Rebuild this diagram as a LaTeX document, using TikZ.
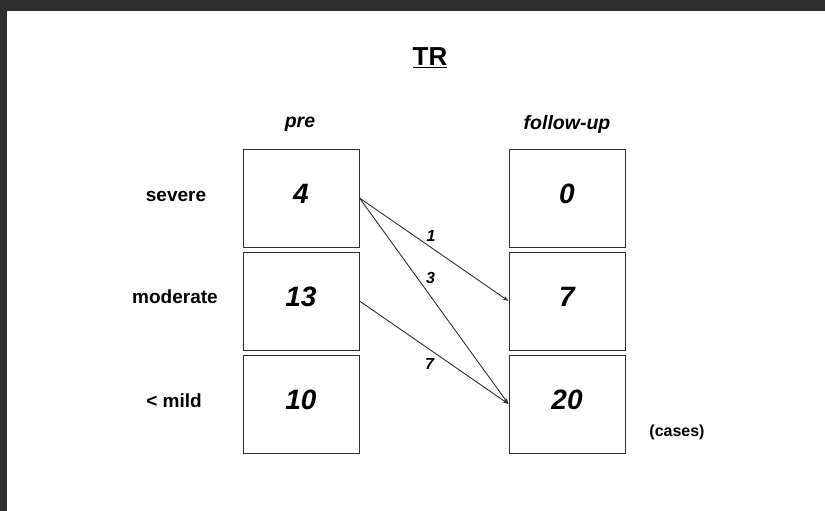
\documentclass[tikz,border=0pt]{standalone}
\usepackage{fontspec}
\setmainfont{Liberation Sans}
\usetikzlibrary{arrows.meta}
\definecolor{frm}{HTML}{2E2E2E}
\definecolor{ln}{HTML}{303030}
\tikzset{
  cell/.style={draw=ln,line width=1pt,minimum width=116pt,minimum height=98pt,inner sep=0pt,text depth=8pt,font=\fontsize{28}{28}\selectfont\bfseries\itshape},
  lbl/.style={font=\fontsize{19}{20}\selectfont\bfseries},
  hd/.style={font=\fontsize{19.5}{20}\selectfont\bfseries\itshape},
  num/.style={font=\fontsize{16}{16}\selectfont\bfseries\itshape,inner sep=1pt},
  ar/.style={-{Stealth[length=6pt,width=4pt]},draw=ln,line width=0.9pt},
}

\begin{document}
\begin{tikzpicture}[x=1pt,y=-1pt]
  \fill[white] (0,0) rectangle (825,511);
  \fill[frm] (0,0) rectangle (825,11);
  \fill[frm] (0,0) rectangle (7,511);

  \node[font=\fontsize{26}{26}\selectfont\bfseries] (title) at (430,58) {\underline{TR}};
  \node[hd] (hpre) at (300,124) {pre};
  \node[hd] (hfu) at (567,124) {follow-up};

  \node[lbl] (sev) at (176,196) {severe};
  \node[lbl] (mod) at (175,297) {moderate};
  \node[lbl] (mild) at (174,401) {< mild};

  \node[cell] (pre1) at (301,198) {4};
  \node[cell] (pre2) at (301,301) {13};
  \node[cell] (pre3) at (301,404) {10};
  \node[cell] (fu1) at (567,198) {0};
  \node[cell] (fu2) at (567,301) {7};
  \node[cell] (fu3) at (567,404) {20};

  \draw[ar] (pre1.east) -- node[num,pos=0.48,above=4pt] {1} (fu2.west);
  \draw[ar] (pre1.east) -- node[num,pos=0.39,right=7pt] {3} (fu3.west);
  \draw[ar] (pre2.east) -- node[num,pos=0.47,below=8pt] {7} (fu3.west);

  \node[font=\fontsize{16}{16}\selectfont\bfseries] (cases) at (677,432) {(cases)};
\end{tikzpicture}
\end{document}
